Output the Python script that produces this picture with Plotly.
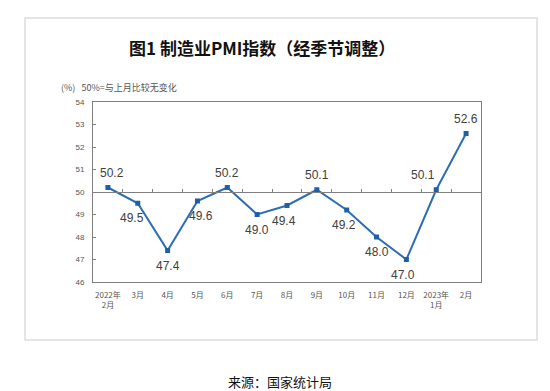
import plotly.graph_objects as go

months = ["2022年<br>2月", "3月", "4月", "5月", "6月", "7月", "8月", "9月",
          "10月", "11月", "12月", "2023年<br>1月", "2月"]
pmi = [50.2, 49.5, 47.4, 49.6, 50.2, 49.0, 49.4, 50.1, 49.2, 48.0, 47.0, 50.1, 52.6]
label_side = [1, -1, -1, -1, 1, -1, -1, 1, -1, -1, -1, 1, 1]
label_dx = [4, -6, 0, 4, 0, 0, -3, 0, -3, 0, -3, -13, 0]

# page body has an 8px margin; targets are in window pixels
OFF = 8
W, H = 550, 391
L, T = 93 - OFF, 102 - OFF
R, B = W - (481 - OFF), H - (282 - OFF)
pw, ph = W - L - R, H - T - B

def px(x):
    return (x - OFF - L) / pw

def py(y):
    return (H - B - (y - OFF)) / ph

fig = go.Figure()
fig.add_trace(go.Scatter(
    x=list(range(len(months))), y=pmi, mode="lines+markers",
    line=dict(color="#2E6DB4", width=2),
    marker=dict(symbol="square", size=5, color="#1F5FA8"),
    hoverinfo="skip", showlegend=False,
))

for i, v in enumerate(pmi):
    fig.add_annotation(x=i, y=v, text=f"{v:.1f}", showarrow=False,
                       yshift=15 * label_side[i], xshift=label_dx[i],
                       xanchor="center", yanchor="middle",
                       font=dict(family="Liberation Sans, Arial", size=12, color="#404040"))

# outer light frame
fig.add_shape(type="rect", xref="paper", yref="paper",
              x0=px(25), x1=px(537), y0=py(340), y1=py(18),
              line=dict(color="#DDDDDD", width=1.5), layer="below")

fig.add_annotation(xref="paper", yref="paper", x=px(262), y=py(48),
                   xanchor="center", yanchor="middle",
                   text="<b>图1 制造业PMI指数（经季节调整）</b>", showarrow=False,
                   font=dict(family="Noto Sans CJK SC", size=17, color="#111111"))
fig.add_annotation(xref="paper", yref="paper", x=px(59), y=py(87),
                   xanchor="left", yanchor="middle",
                   text="(%)&nbsp;&nbsp;&nbsp;50%=与上月比较无变化", showarrow=False,
                   font=dict(family="Noto Sans CJK SC", size=9, color="#555555"))
fig.add_annotation(xref="paper", yref="paper", x=px(280), y=py(381),
                   xanchor="center", yanchor="middle",
                   text="来源：国家统计局", showarrow=False,
                   font=dict(family="Noto Sans CJK SC", size=13, color="#111111"))

fig.update_layout(
    width=W, height=H, margin=dict(l=L, r=R, t=T, b=B),
    paper_bgcolor="white", plot_bgcolor="white",
    xaxis=dict(range=[-0.5, len(months) - 0.5], tickmode="array",
               tickvals=list(range(len(months))), ticktext=months,
               showgrid=False, zeroline=False, showline=True, linecolor="#7F7F7F",
               linewidth=1, mirror=True, ticks="", ticklabelstandoff=5,
               tickfont=dict(family="Noto Sans CJK SC", size=8, color="#555555")),
    xaxis2=dict(overlaying="x", anchor="free", position=0.5,
                range=[-0.5, len(months) - 0.5], tickmode="array",
                tickvals=[i + 0.5 for i in range(len(months) - 1)],
                showticklabels=False, showline=True, linecolor="#7F7F7F", linewidth=1,
                ticks="inside", ticklen=3, tickcolor="#7F7F7F", showgrid=False, zeroline=False),
    yaxis=dict(range=[46, 54], dtick=1, showgrid=False, zeroline=False,
               showline=True, linecolor="#7F7F7F", linewidth=1, mirror=True,
               ticks="inside", ticklen=3, tickcolor="#7F7F7F", ticklabelstandoff=6,
               tickfont=dict(family="Liberation Sans, Arial", size=8, color="#555555")),
)
fig.add_trace(go.Scatter(x=[0], y=[50], xaxis="x2", mode="markers",
                         marker=dict(opacity=0), hoverinfo="skip", showlegend=False))

fig.write_html("out.html")
